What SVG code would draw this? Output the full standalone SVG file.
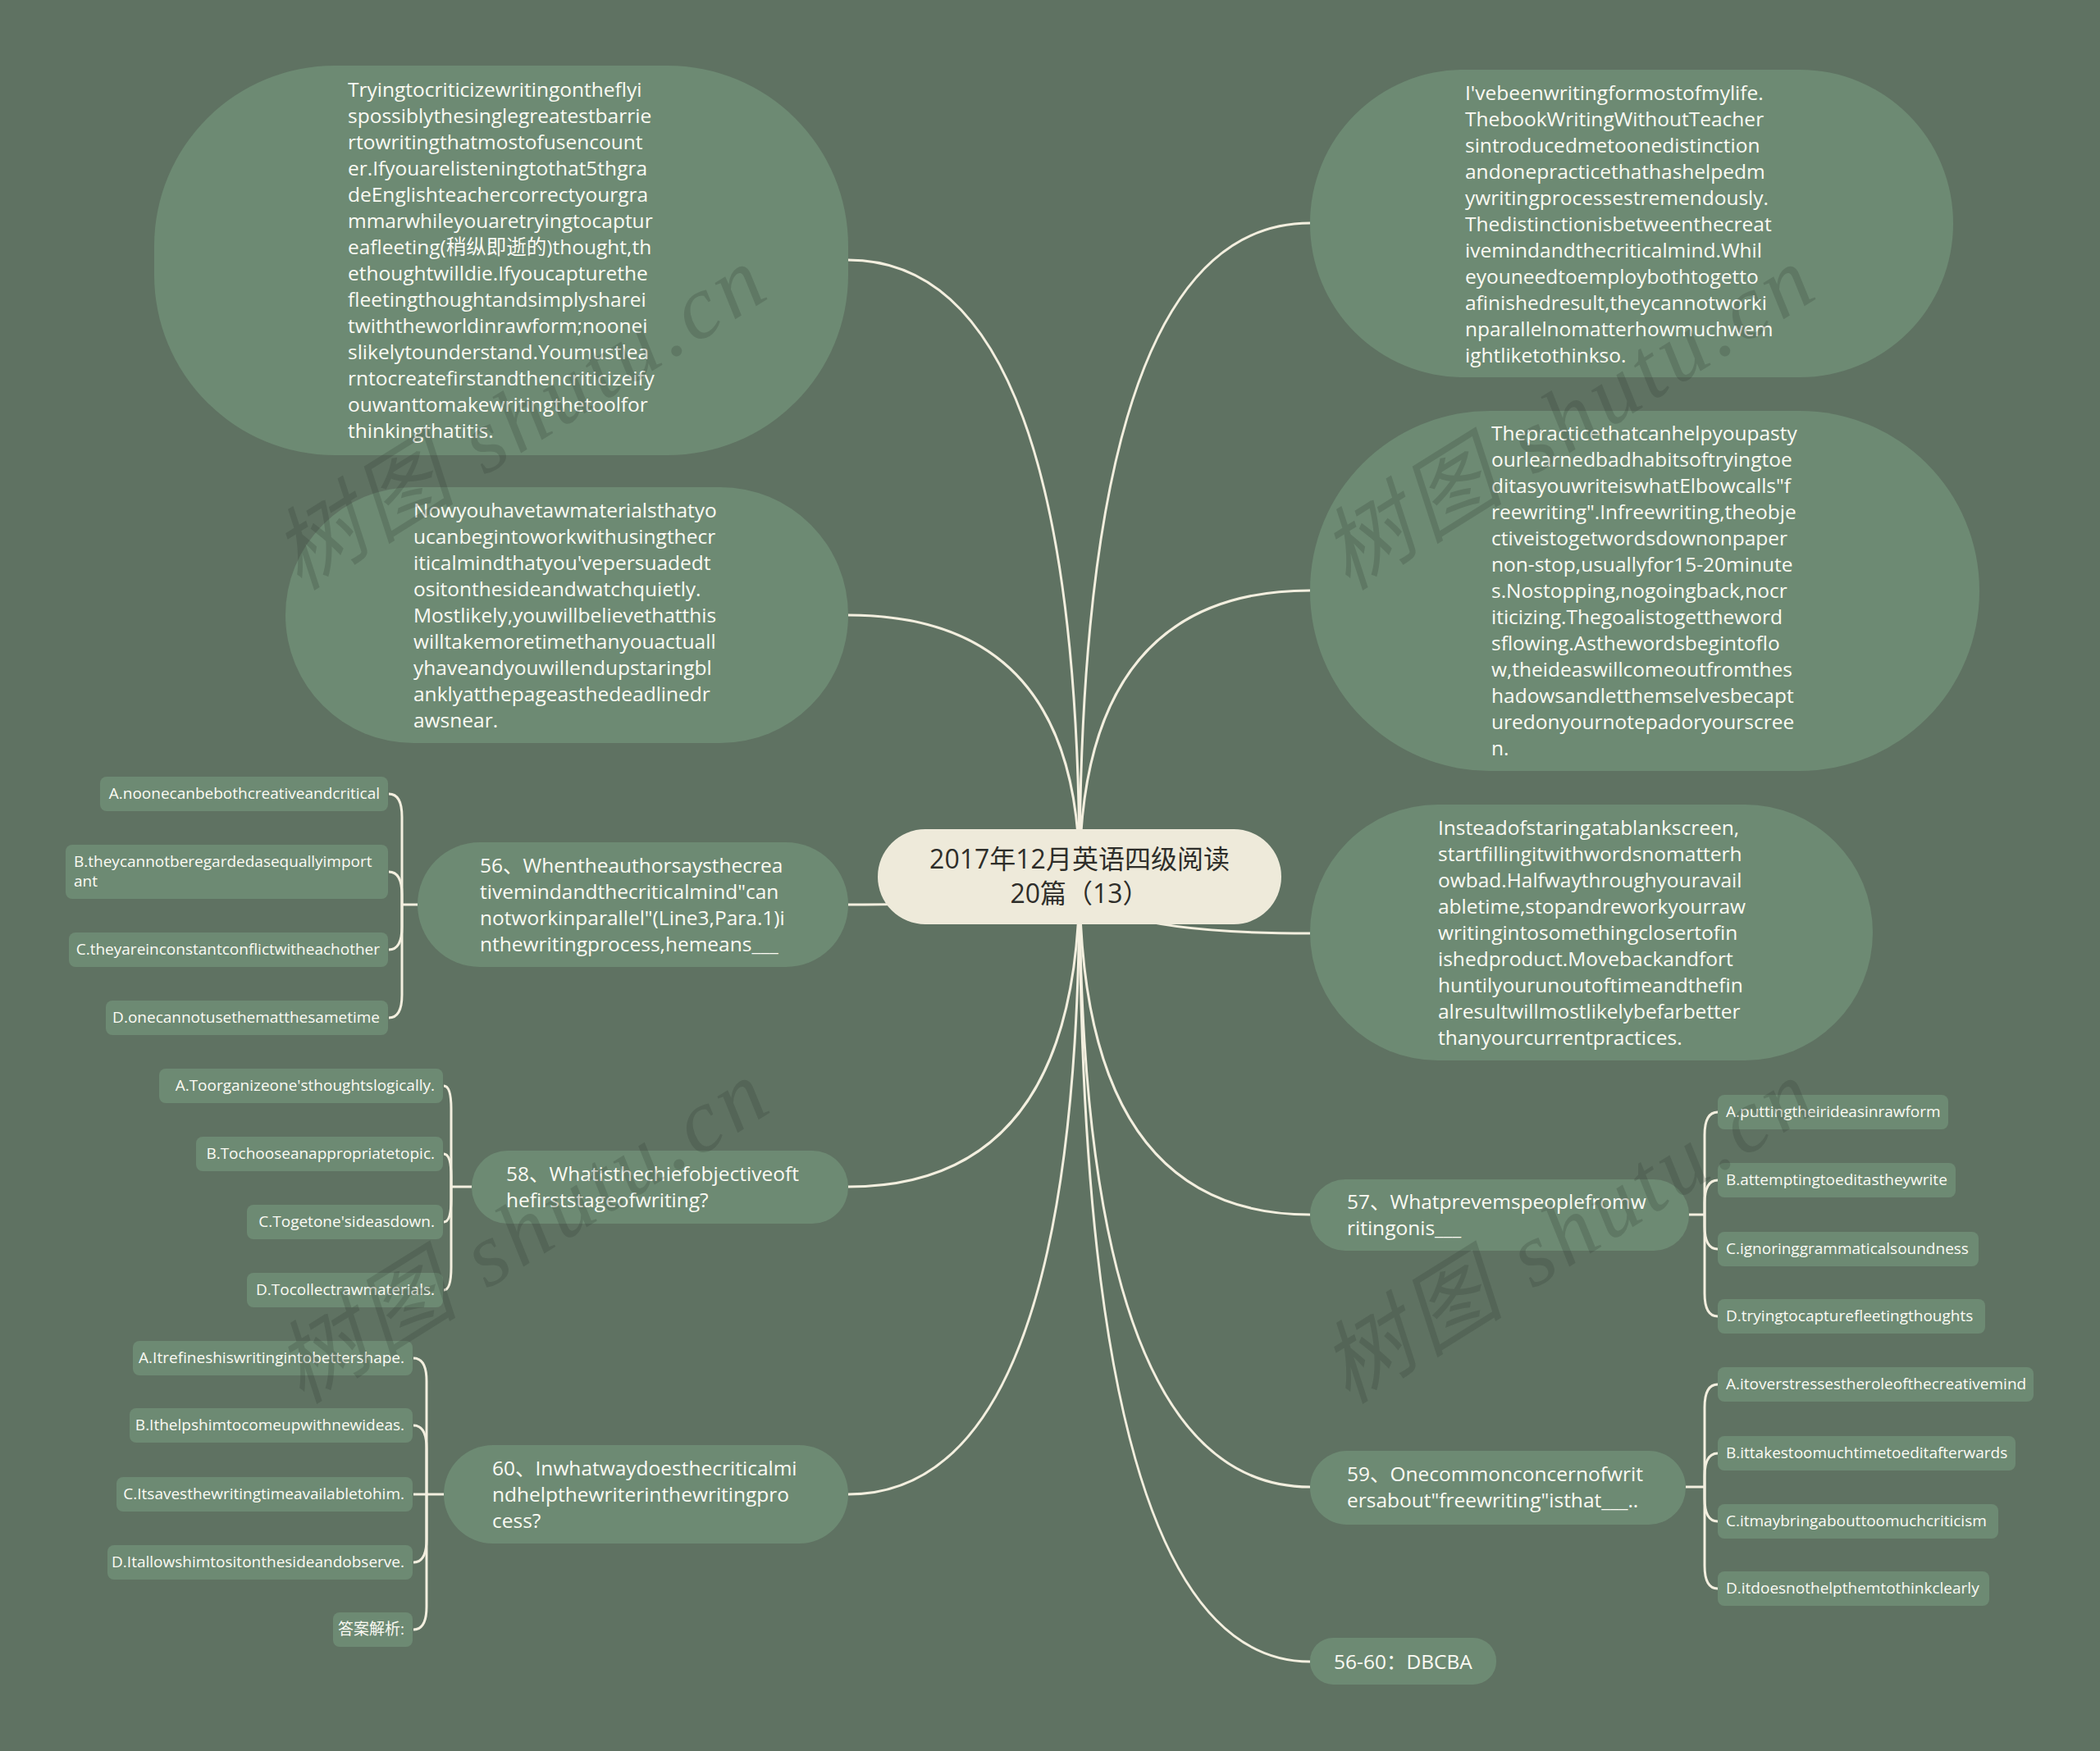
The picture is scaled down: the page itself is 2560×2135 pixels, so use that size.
<svg xmlns="http://www.w3.org/2000/svg" width="2560" height="2135" viewBox="0 0 2560 2135">
<style>
.bub{fill:#6d8a73}
.opt{fill:#6d8a73}
.t{font-family:"Open Sans","Noto Sans CJK SC",sans-serif;font-size:24.5px;fill:#fbfaf3}
.o{font-family:"Open Sans","Noto Sans CJK SC",sans-serif;font-size:19px;fill:#fbfaf3}
.r{font-family:"Open Sans","Noto Sans CJK SC",sans-serif;font-size:32px;fill:#2e2e2a}
.conn path{fill:none;stroke:#f3efdf;stroke-width:3}
.wm{font-family:"Liberation Serif","Noto Sans CJK SC",serif;font-style:italic;font-size:110px;fill:#2f3a31;opacity:0.22;letter-spacing:6px}
</style>
<rect width="2560" height="2135" fill="#5f7262"/>

<g id="connectors" class="conn">
<path d="M1316,1069 Q1316,317 1034,317"/>
<path d="M1316,1069 Q1316,750 1034,750"/>
<path d="M1316,1069 Q1316,1103 1034,1103"/>
<path d="M1316,1069 Q1316,1447 1034,1447"/>
<path d="M1316,1069 Q1316,1822 1034,1822"/>
<path d="M1316,1069 Q1316,272 1597,272"/>
<path d="M1316,1069 Q1316,720 1597,720"/>
<path d="M1316,1069 Q1316,1138 1597,1138"/>
<path d="M1316,1069 Q1316,1481 1597,1481"/>
<path d="M1316,1069 Q1316,1813 1597,1813"/>
<path d="M1316,1069 Q1316,2026 1597,2026"/>
<path d="M509,1103 H490"/>
<path d="M490,1103 V996 Q490,968 474,968"/>
<path d="M490,1103 V1091 Q490,1063 474,1063"/>
<path d="M490,1103 V1130 Q490,1158 474,1158"/>
<path d="M490,1103 V1213 Q490,1241 474,1241"/>
<path d="M575,1447 H550"/>
<path d="M550,1447 V1352 Q550,1324 541,1324"/>
<path d="M550,1447 V1435 Q550,1407 541,1407"/>
<path d="M550,1447 V1462 Q550,1490 541,1490"/>
<path d="M550,1447 V1545 Q550,1573 541,1573"/>
<path d="M541,1822 H520"/>
<path d="M520,1822 V1684 Q520,1656 504,1656"/>
<path d="M520,1822 V1766 Q520,1738 504,1738"/>
<path d="M520,1822 H504"/>
<path d="M520,1822 V1877 Q520,1905 504,1905"/>
<path d="M520,1822 V1959 Q520,1987 504,1987"/>
<path d="M2059,1481 H2078"/>
<path d="M2078,1481 V1384 Q2078,1356 2094,1356"/>
<path d="M2078,1481 V1467 Q2078,1439 2094,1439"/>
<path d="M2078,1481 V1495 Q2078,1523 2094,1523"/>
<path d="M2078,1481 V1577 Q2078,1605 2094,1605"/>
<path d="M2055,1813 H2078"/>
<path d="M2078,1813 V1716 Q2078,1688 2094,1688"/>
<path d="M2078,1813 V1800 Q2078,1772 2094,1772"/>
<path d="M2078,1813 V1827 Q2078,1855 2094,1855"/>
<path d="M2078,1813 V1909 Q2078,1937 2094,1937"/>
</g>

<g id="root">
<rect x="1070" y="1011" width="492" height="116" rx="58" fill="#eeeada"/>
<text class="r" text-anchor="middle"><tspan x="1316" y="1059">2017年12月英语四级阅读</tspan><tspan x="1316" y="1101">20篇（13）</tspan></text>
</g>

<g id="node-l1">
<rect class="bub" x="188" y="80" width="846" height="475" rx="220"/>
<text class="t" x="424" y="118"><tspan x="424">Tryingtocriticizewritingontheflyi</tspan><tspan x="424" dy="32">spossiblythesinglegreatestbarrie</tspan><tspan x="424" dy="32">rtowritingthatmostofusencount</tspan><tspan x="424" dy="32">er.Ifyouarelisteningtothat5thgra</tspan><tspan x="424" dy="32">deEnglishteachercorrectyourgra</tspan><tspan x="424" dy="32">mmarwhileyouaretryingtocaptur</tspan><tspan x="424" dy="32">eafleeting(稍纵即逝的)thought,th</tspan><tspan x="424" dy="32">ethoughtwilldie.Ifyoucapturethe</tspan><tspan x="424" dy="32">fleetingthoughtandsimplysharei</tspan><tspan x="424" dy="32">twiththeworldinrawform;noonei</tspan><tspan x="424" dy="32">slikelytounderstand.Youmustlea</tspan><tspan x="424" dy="32">rntocreatefirstandthencriticizeify</tspan><tspan x="424" dy="32">ouwanttomakewritingthetoolfor</tspan><tspan x="424" dy="32">thinkingthatitis.</tspan></text>
</g>

<g id="node-l2">
<rect class="bub" x="348" y="594" width="686" height="312" rx="156"/>
<text class="t" x="504" y="631"><tspan x="504">Nowyouhavetawmaterialsthatyo</tspan><tspan x="504" dy="32">ucanbegintoworkwithusingthecr</tspan><tspan x="504" dy="32">iticalmindthatyou'vepersuadedt</tspan><tspan x="504" dy="32">ositonthesideandwatchquietly.</tspan><tspan x="504" dy="32">Mostlikely,youwillbelievethatthis</tspan><tspan x="504" dy="32">willtakemoretimethanyouactuall</tspan><tspan x="504" dy="32">yhaveandyouwillendupstaringbl</tspan><tspan x="504" dy="32">anklyatthepageasthedeadlinedr</tspan><tspan x="504" dy="32">awsnear.</tspan></text>
</g>

<g id="node-q56">
<rect class="bub" x="509" y="1027" width="525" height="152" rx="76"/>
<text class="t" x="585" y="1064"><tspan x="585">56、Whentheauthorsaysthecrea</tspan><tspan x="585" dy="32">tivemindandthecriticalmind"can</tspan><tspan x="585" dy="32">notworkinparallel"(Line3,Para.1)i</tspan><tspan x="585" dy="32">nthewritingprocess,hemeans___</tspan></text>
</g>
<g id="q56-a"><rect class="opt" x="122" y="947" width="351" height="42" rx="8"/><text class="o" x="463" y="974" text-anchor="end">A.noonecanbebothcreativeandcritical</text></g>
<g id="q56-b"><rect class="opt" x="80" y="1030" width="393" height="66" rx="8"/><text class="o" x="90" y="1057"><tspan x="90">B.theycannotberegardedasequallyimport</tspan><tspan x="90" dy="24">ant</tspan></text></g>
<g id="q56-c"><rect class="opt" x="84" y="1137" width="389" height="42" rx="8"/><text class="o" x="463" y="1164" text-anchor="end">C.theyareinconstantconflictwitheachother</text></g>
<g id="q56-d"><rect class="opt" x="129" y="1220" width="344" height="42" rx="8"/><text class="o" x="463" y="1247" text-anchor="end">D.onecannotusethematthesametime</text></g>

<g id="node-q58">
<rect class="bub" x="575" y="1403" width="459" height="89" rx="44"/>
<text class="t" x="617" y="1440"><tspan x="617">58、Whatisthechiefobjectiveoft</tspan><tspan x="617" dy="32">hefirststageofwriting?</tspan></text>
</g>
<g id="q58-a"><rect class="opt" x="194" y="1303" width="346" height="42" rx="8"/><text class="o" x="530" y="1330" text-anchor="end">A.Toorganizeone'sthoughtslogically.</text></g>
<g id="q58-b"><rect class="opt" x="239" y="1386" width="301" height="42" rx="8"/><text class="o" x="530" y="1413" text-anchor="end">B.Tochooseanappropriatetopic.</text></g>
<g id="q58-c"><rect class="opt" x="301" y="1469" width="239" height="42" rx="8"/><text class="o" x="530" y="1496" text-anchor="end">C.Togetone'sideasdown.</text></g>
<g id="q58-d"><rect class="opt" x="301" y="1552" width="239" height="42" rx="8"/><text class="o" x="530" y="1579" text-anchor="end">D.Tocollectrawmaterials.</text></g>

<g id="node-q60">
<rect class="bub" x="541" y="1762" width="493" height="120" rx="60"/>
<text class="t" x="600" y="1799"><tspan x="600">60、Inwhatwaydoesthecriticalmi</tspan><tspan x="600" dy="32">ndhelpthewriterinthewritingpro</tspan><tspan x="600" dy="32">cess?</tspan></text>
</g>
<g id="q60-a"><rect class="opt" x="162" y="1635" width="341" height="42" rx="8"/><text class="o" x="493" y="1662" text-anchor="end">A.Itrefineshiswritingintobettershape.</text></g>
<g id="q60-b"><rect class="opt" x="158" y="1717" width="345" height="42" rx="8"/><text class="o" x="493" y="1744" text-anchor="end">B.Ithelpshimtocomeupwithnewideas.</text></g>
<g id="q60-c"><rect class="opt" x="142" y="1801" width="361" height="42" rx="8"/><text class="o" x="493" y="1828" text-anchor="end">C.Itsavesthewritingtimeavailabletohim.</text></g>
<g id="q60-d"><rect class="opt" x="131" y="1884" width="372" height="42" rx="8"/><text class="o" x="493" y="1911" text-anchor="end">D.Itallowshimtositonthesideandobserve.</text></g>
<g id="q60-e"><rect class="opt" x="406" y="1966" width="97" height="42" rx="8"/><text class="o" x="493" y="1993" text-anchor="end">答案解析:</text></g>

<g id="node-r1">
<rect class="bub" x="1597" y="85" width="784" height="375" rx="187"/>
<text class="t" x="1786" y="122"><tspan x="1786">I'vebeenwritingformostofmylife.</tspan><tspan x="1786" dy="32">ThebookWritingWithoutTeacher</tspan><tspan x="1786" dy="32">sintroducedmetoonedistinction</tspan><tspan x="1786" dy="32">andonepracticethathashelpedm</tspan><tspan x="1786" dy="32">ywritingprocessestremendously.</tspan><tspan x="1786" dy="32">Thedistinctionisbetweenthecreat</tspan><tspan x="1786" dy="32">ivemindandthecriticalmind.Whil</tspan><tspan x="1786" dy="32">eyouneedtoemploybothtogetto</tspan><tspan x="1786" dy="32">afinishedresult,theycannotworki</tspan><tspan x="1786" dy="32">nparallelnomatterhowmuchwem</tspan><tspan x="1786" dy="32">ightliketothinkso.</tspan></text>
</g>

<g id="node-r2">
<rect class="bub" x="1597" y="501" width="816" height="439" rx="219"/>
<text class="t" x="1818" y="537"><tspan x="1818">Thepracticethatcanhelpyoupasty</tspan><tspan x="1818" dy="32">ourlearnedbadhabitsoftryingtoe</tspan><tspan x="1818" dy="32">ditasyouwriteiswhatElbowcalls"f</tspan><tspan x="1818" dy="32">reewriting".Infreewriting,theobje</tspan><tspan x="1818" dy="32">ctiveistogetwordsdownonpaper</tspan><tspan x="1818" dy="32">non-stop,usuallyfor15-20minute</tspan><tspan x="1818" dy="32">s.Nostopping,nogoingback,nocr</tspan><tspan x="1818" dy="32">iticizing.Thegoalistogettheword</tspan><tspan x="1818" dy="32">sflowing.Asthewordsbegintoflo</tspan><tspan x="1818" dy="32">w,theideaswillcomeoutfromthes</tspan><tspan x="1818" dy="32">hadowsandletthemselvesbecapt</tspan><tspan x="1818" dy="32">uredonyournotepadoryourscree</tspan><tspan x="1818" dy="32">n.</tspan></text>
</g>

<g id="node-r3">
<rect class="bub" x="1597" y="981" width="686" height="312" rx="156"/>
<text class="t" x="1753" y="1018"><tspan x="1753">Insteadofstaringatablankscreen,</tspan><tspan x="1753" dy="32">startfillingitwithwordsnomatterh</tspan><tspan x="1753" dy="32">owbad.Halfwaythroughyouravail</tspan><tspan x="1753" dy="32">abletime,stopandreworkyourraw</tspan><tspan x="1753" dy="32">writingintosomethingclosertofin</tspan><tspan x="1753" dy="32">ishedproduct.Movebackandfort</tspan><tspan x="1753" dy="32">huntilyourunoutoftimeandthefin</tspan><tspan x="1753" dy="32">alresultwillmostlikelybefarbetter</tspan><tspan x="1753" dy="32">thanyourcurrentpractices.</tspan></text>
</g>

<g id="node-q57">
<rect class="bub" x="1597" y="1438" width="462" height="87" rx="43"/>
<text class="t" x="1642" y="1474"><tspan x="1642">57、Whatprevemspeoplefromw</tspan><tspan x="1642" dy="32">ritingonis___</tspan></text>
</g>
<g id="q57-a"><rect class="opt" x="2094" y="1335" width="281" height="42" rx="8"/><text class="o" x="2104" y="1362">A.puttingtheirideasinrawform</text></g>
<g id="q57-b"><rect class="opt" x="2094" y="1418" width="290" height="42" rx="8"/><text class="o" x="2104" y="1445">B.attemptingtoeditastheywrite</text></g>
<g id="q57-c"><rect class="opt" x="2094" y="1502" width="318" height="42" rx="8"/><text class="o" x="2104" y="1529">C.ignoringgrammaticalsoundness</text></g>
<g id="q57-d"><rect class="opt" x="2094" y="1584" width="326" height="42" rx="8"/><text class="o" x="2104" y="1611">D.tryingtocapturefleetingthoughts</text></g>

<g id="node-q59">
<rect class="bub" x="1597" y="1769" width="458" height="90" rx="45"/>
<text class="t" x="1642" y="1806"><tspan x="1642">59、Onecommonconcernofwrit</tspan><tspan x="1642" dy="32">ersabout"freewriting"isthat___..</tspan></text>
</g>
<g id="q59-a"><rect class="opt" x="2094" y="1667" width="385" height="42" rx="8"/><text class="o" x="2104" y="1694">A.itoverstressestheroleofthecreativemind</text></g>
<g id="q59-b"><rect class="opt" x="2094" y="1751" width="363" height="42" rx="8"/><text class="o" x="2104" y="1778">B.ittakestoomuchtimetoeditafterwards</text></g>
<g id="q59-c"><rect class="opt" x="2094" y="1834" width="342" height="42" rx="8"/><text class="o" x="2104" y="1861">C.itmaybringabouttoomuchcriticism</text></g>
<g id="q59-d"><rect class="opt" x="2094" y="1916" width="331" height="42" rx="8"/><text class="o" x="2104" y="1943">D.itdoesnothelpthemtothinkclearly</text></g>

<g id="node-ans">
<rect class="bub" x="1597" y="1997" width="227" height="57" rx="28"/>
<text class="t" x="1626" y="2035">56-60：DBCBA</text>
</g>

<g id="watermarks">
<text class="wm" text-anchor="middle" transform="translate(655,540) rotate(-32)">树图 shutu.cn</text>
<text class="wm" text-anchor="middle" transform="translate(1933,540) rotate(-32)">树图 shutu.cn</text>
<text class="wm" text-anchor="middle" transform="translate(658,1532) rotate(-32)">树图 shutu.cn</text>
<text class="wm" text-anchor="middle" transform="translate(1933,1532) rotate(-32)">树图 shutu.cn</text>
</g>
</svg>
